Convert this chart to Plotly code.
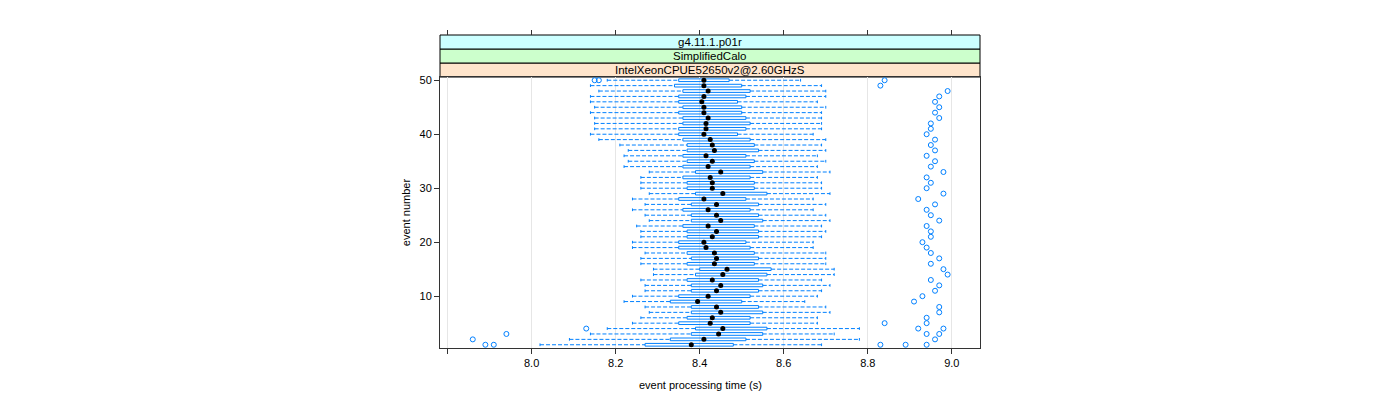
import plotly.graph_objects as go

events = list(range(1, 51))
# per event: lower whisker, Q1, median, Q3, upper whisker
low = [8.02, 8.09, 8.14, 8.18, 8.24, 8.26, 8.28, 8.27, 8.22, 8.24,
       8.27, 8.27, 8.26, 8.29, 8.29, 8.26, 8.26, 8.27, 8.24, 8.24,
       8.26, 8.26, 8.25, 8.28, 8.27, 8.24, 8.27, 8.24, 8.28, 8.26,
       8.26, 8.26, 8.28, 8.22, 8.23, 8.22, 8.23, 8.21, 8.16, 8.14,
       8.15, 8.15, 8.15, 8.14, 8.15, 8.14, 8.14, 8.16, 8.14, 8.18]
q1 = [8.27, 8.33, 8.38, 8.39, 8.35, 8.37, 8.38, 8.38, 8.33, 8.35,
      8.38, 8.38, 8.37, 8.39, 8.40, 8.37, 8.38, 8.37, 8.35, 8.35,
      8.37, 8.37, 8.36, 8.38, 8.38, 8.36, 8.38, 8.35, 8.39, 8.37,
      8.37, 8.36, 8.39, 8.36, 8.37, 8.36, 8.37, 8.37, 8.36, 8.35,
      8.35, 8.36, 8.36, 8.35, 8.36, 8.35, 8.35, 8.36, 8.34, 8.35]
med = [8.38, 8.41, 8.445, 8.455, 8.425, 8.43, 8.45, 8.44, 8.395, 8.42,
       8.44, 8.45, 8.43, 8.455, 8.465, 8.435, 8.44, 8.435, 8.415, 8.41,
       8.43, 8.44, 8.42, 8.45, 8.44, 8.42, 8.44, 8.41, 8.455, 8.43,
       8.43, 8.425, 8.45, 8.42, 8.43, 8.415, 8.435, 8.43, 8.425, 8.41,
       8.415, 8.415, 8.42, 8.41, 8.41, 8.405, 8.41, 8.42, 8.41, 8.41]
q3 = [8.48, 8.51, 8.55, 8.56, 8.52, 8.52, 8.55, 8.54, 8.50, 8.52,
      8.54, 8.55, 8.54, 8.56, 8.57, 8.53, 8.54, 8.53, 8.52, 8.51,
      8.54, 8.54, 8.53, 8.55, 8.54, 8.52, 8.54, 8.51, 8.56, 8.53,
      8.53, 8.52, 8.55, 8.52, 8.53, 8.51, 8.54, 8.53, 8.52, 8.49,
      8.51, 8.52, 8.51, 8.50, 8.50, 8.49, 8.51, 8.52, 8.50, 8.47]
high = [8.69, 8.78, 8.72, 8.78, 8.68, 8.68, 8.71, 8.70, 8.65, 8.68,
        8.69, 8.71, 8.69, 8.72, 8.72, 8.70, 8.70, 8.70, 8.67, 8.67,
        8.69, 8.70, 8.69, 8.71, 8.70, 8.67, 8.70, 8.67, 8.71, 8.69,
        8.69, 8.68, 8.71, 8.68, 8.70, 8.68, 8.70, 8.69, 8.70, 8.67,
        8.69, 8.69, 8.69, 8.69, 8.70, 8.68, 8.70, 8.70, 8.69, 8.64]

out_event = [1, 1, 1, 1, 1, 2, 2, 3, 3, 3, 4, 4, 4, 5, 5, 6, 7, 8, 9, 10,
             11, 12, 13, 14, 15, 16, 17, 18, 19, 20, 21, 22, 23, 24, 25,
             26, 27, 28, 29, 30, 31, 32, 33, 34, 35, 36, 37, 38, 39, 40,
             41, 42, 43, 44, 45, 46, 47, 48, 49, 50, 50, 50]
out_value = [7.89, 7.91, 8.83, 8.89, 8.94, 7.86, 8.96, 7.94, 8.94, 8.97,
             8.13, 8.92, 8.98, 8.84, 8.94, 8.94, 8.97, 8.97, 8.91, 8.93,
             8.96, 8.97, 8.95, 8.99, 8.98, 8.95, 8.97, 8.95, 8.94, 8.93,
             8.95, 8.95, 8.94, 8.97, 8.95, 8.94, 8.96, 8.92, 8.98, 8.94,
             8.95, 8.94, 8.98, 8.95, 8.96, 8.94, 8.96, 8.95, 8.96, 8.94,
             8.95, 8.95, 8.97, 8.96, 8.97, 8.96, 8.97, 8.99, 8.83, 8.15,
             8.16, 8.84]

x_ticks = [7.8, 8.0, 8.2, 8.4, 8.6, 8.8, 9.0]
x_tick_text = ["", "8.0", "8.2", "8.4", "8.6", "8.8", "9.0"]
y_ticks = [10, 20, 30, 40, 50]
strip_labels = ["IntelXeonCPUE52650v2@2.60GHzS", "SimplifiedCalo", "g4.11.1.p01r"]
strip_colors = ["#ffe5cc", "#ccffcc", "#ccffff"]
x_title = "event processing time (s)"
y_title = "event number"

BLUE = "#0080ff"
FONT = "Liberation Sans, Arial, Helvetica, sans-serif"
H = 0.25  # half box height (box.ratio = 1)

bx, by, wx, wy, cx, cy = [], [], [], [], [], []
for i, n in enumerate(events):
    bx += [q1[i], q3[i], q3[i], q1[i], q1[i], None]
    by += [n - H, n - H, n + H, n + H, n - H, None]
    wx += [low[i], q1[i], None, q3[i], high[i], None]
    wy += [n, n, None, n, n, None]
    cx += [low[i], low[i], None, high[i], high[i], None]
    cy += [n - H, n + H, None, n - H, n + H, None]

fig = go.Figure()
fig.add_trace(go.Scatter(x=wx, y=wy, mode="lines",
                         line=dict(color=BLUE, width=1, dash="4px,2px"),
                         hoverinfo="skip", showlegend=False))
fig.add_trace(go.Scatter(x=cx, y=cy, mode="lines",
                         line=dict(color=BLUE, width=1),
                         hoverinfo="skip", showlegend=False))
fig.add_trace(go.Scatter(x=bx, y=by, mode="lines",
                         line=dict(color=BLUE, width=1),
                         hoverinfo="skip", showlegend=False))
fig.add_trace(go.Scatter(x=out_value, y=out_event, mode="markers",
                         marker=dict(symbol="circle-open", size=5, color=BLUE,
                                     line=dict(width=1, color=BLUE)),
                         showlegend=False))
fig.add_trace(go.Scatter(x=med, y=events, mode="markers",
                         marker=dict(symbol="circle", size=5, color="black"),
                         showlegend=False))

W, HGT = 1400, 400
OFF = 8  # page body margin
ML, MR, MT, MB = 440 - OFF, 420 + OFF, 35 - OFF, 52 + OFF
plot_w = W - ML - MR
plot_h = HGT - MT - MB
panel_top_px = 77 - OFF
bottom_px = HGT - MB
def py(p):
    return (bottom_px - p) / plot_h

ydom_top = py(panel_top_px)
strip_edges = [panel_top_px, 63 - OFF, 49 - OFF, 35 - OFF]

shapes = []
annotations = []
for k in range(3):
    y0 = py(strip_edges[k])
    y1 = py(strip_edges[k + 1])
    shapes.append(dict(type="rect", xref="paper", yref="paper", x0=0, x1=1,
                       y0=y0, y1=y1, fillcolor=strip_colors[k],
                       line=dict(color="black", width=1), layer="below"))
    annotations.append(dict(xref="paper", yref="paper", x=0.5, y=(y0 + y1) / 2,
                            text=strip_labels[k], showarrow=False,
                            font=dict(family=FONT, size=11.5, color="black"),
                            xanchor="center", yanchor="middle"))
# x axis title, centred like lattice (on the whole figure region)
annotations.append(dict(xref="paper", yref="paper",
                        x=(700 - OFF - ML) / plot_w, y=py(385 - OFF),
                        text=x_title, showarrow=False,
                        font=dict(family=FONT, size=11, color="black"),
                        xanchor="center", yanchor="middle"))

fig.update_layout(
    width=W, height=HGT,
    margin=dict(l=ML, r=MR, t=MT, b=MB),
    plot_bgcolor="white", paper_bgcolor="white",
    font=dict(family=FONT, size=11, color="black"),
    shapes=shapes, annotations=annotations,
    xaxis=dict(range=[7.782, 9.067], tickvals=x_ticks, ticktext=x_tick_text,
               showgrid=True, gridcolor="#e6e6e6", gridwidth=1,
               zeroline=False, showline=True, linecolor="#333333", linewidth=1,
               mirror=True, ticks="outside", ticklen=5, tickcolor="#333333",
               tickfont=dict(size=11)),
    xaxis2=dict(range=[7.782, 9.067], tickvals=x_ticks, overlaying="x",
                side="top", anchor="free", position=1.0, showticklabels=False,
                ticks="outside", ticklen=5, tickcolor="#333333",
                showgrid=False, zeroline=False, showline=False),
    yaxis=dict(range=[0.4, 50.6], domain=[0, ydom_top], tickvals=y_ticks,
               showgrid=False, zeroline=False, showline=True,
               linecolor="#333333", linewidth=1, mirror=True,
               ticks="outside", ticklen=5, tickcolor="#333333",
               title=dict(text=y_title, standoff=6, font=dict(size=11)),
               tickfont=dict(size=11)),
)
# dummy trace to show the top axis ticks
fig.add_trace(go.Scatter(x=[None], y=[None], xaxis="x2", showlegend=False,
                         hoverinfo="skip"))

fig.write_html("out.html")
